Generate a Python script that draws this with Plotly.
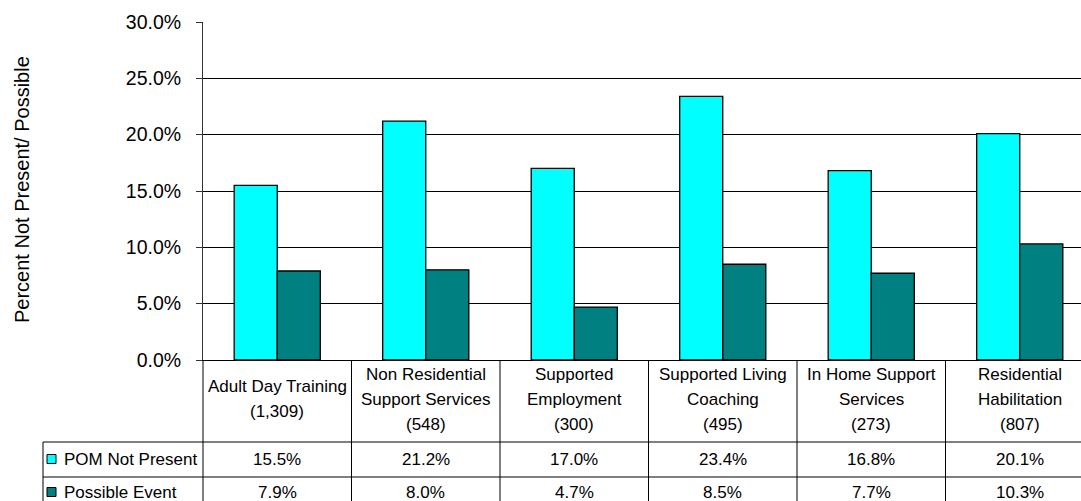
import plotly.graph_objects as go

# Service categories, sample sizes and the two measured rates (percent)
categories = [
    "Adult Day Training",
    "Non Residential\nSupport Services",
    "Supported\nEmployment",
    "Supported Living\nCoaching",
    "In Home Support\nServices",
    "Residential\nHabilitation",
]
counts = [1309, 548, 300, 495, 273, 807]
series_names = ["POM Not Present", "Possible Event"]
pom_not_present = [15.5, 21.2, 17.0, 23.4, 16.8, 20.1]
possible_event = [7.9, 8.0, 4.7, 8.5, 7.7, 10.3]
series_values = [pom_not_present, possible_event]
series_colors = ["#00FFFF", "#008080"]
y_ticks = [0, 5, 10, 15, 20, 25, 30]

W, H = 1081, 501
ML, MT, MB = 203, 22, 141
PW = W - ML
PH = H - MT - MB
CAT_PX = 148.5                      # width of one category column in pixels
FONT = "Liberation Sans, Arial, sans-serif"


def px_x(x):
    return (x - ML) / PW


def px_y(y):
    return 1 - (y - MT) / PH


x_idx = list(range(len(categories)))
fig = go.Figure()
for name, vals, col in zip(series_names, series_values, series_colors):
    fig.add_trace(go.Bar(
        x=x_idx, y=[v / 100 for v in vals], name=name,
        marker=dict(color=col, line=dict(color="#000000", width=1.3)),
        hoverinfo="y+name",
    ))

shapes = []
annotations = []
cw = CAT_PX / PW

# category header cells
for i, (cat, n) in enumerate(zip(categories, counts)):
    lines = cat.split("\n") + [f"({n:,})"]
    centre = 399
    step = 25
    y0 = centre - step * (len(lines) - 1) / 2
    for k, line in enumerate(lines):
        annotations.append(dict(
            x=(i + 0.5) * cw, y=px_y(y0 + k * step), xref="paper", yref="paper",
            text=line, showarrow=False, xanchor="center", yanchor="middle",
            font=dict(family=FONT, size=17, color="#000"),
        ))

# data table rows
row_y = [459, 492]
for r, (name, vals, col) in enumerate(zip(series_names, series_values, series_colors)):
    for i, v in enumerate(vals):
        annotations.append(dict(
            x=(i + 0.5) * cw, y=px_y(row_y[r]), xref="paper", yref="paper",
            text=f"{v:.1f}%", showarrow=False, xanchor="center", yanchor="middle",
            font=dict(family=FONT, size=17, color="#000"),
        ))
    annotations.append(dict(
        x=px_x(62), y=px_y(row_y[r]), xref="paper", yref="paper",
        text=name, showarrow=False, xanchor="left", yanchor="middle",
        font=dict(family=FONT, size=17, color="#000"),
    ))
    shapes.append(dict(
        type="rect", xref="paper", yref="paper",
        x0=px_x(47), x1=px_x(56), y0=px_y(row_y[r] - 4.5), y1=px_y(row_y[r] + 4.5),
        fillcolor=col, line=dict(color="#000", width=1),
    ))

# table grid lines
line_style = dict(color="#000000", width=1)
for i in range(len(categories) + 1):
    shapes.append(dict(type="line", xref="paper", yref="paper",
                       x0=i * cw, x1=i * cw, y0=px_y(360), y1=px_y(H + 20),
                       line=line_style))
for yy in (442, 477):
    shapes.append(dict(type="line", xref="paper", yref="paper",
                       x0=px_x(43), x1=1.02, y0=px_y(yy), y1=px_y(yy),
                       line=line_style))
shapes.append(dict(type="line", xref="paper", yref="paper",
                   x0=px_x(43), x1=px_x(43), y0=px_y(442), y1=px_y(H + 20),
                   line=line_style))

# vertical axis title
annotations.append(dict(
    x=px_x(22), y=px_y(190), xref="paper", yref="paper",
    text="Percent Not Present/ Possible", textangle=-90, showarrow=False,
    xanchor="center", yanchor="middle",
    font=dict(family=FONT, size=20, color="#000"),
))

fig.update_layout(
    width=W, height=H,
    margin=dict(l=ML, r=0, t=MT, b=MB, pad=0),
    paper_bgcolor="#FFFFFF", plot_bgcolor="#FFFFFF",
    barmode="group", bargap=0.42, bargroupgap=0,
    showlegend=False,
    shapes=shapes, annotations=annotations,
    font=dict(family=FONT, color="#000"),
)
fig.update_xaxes(
    range=[-0.5, -0.5 + PW / CAT_PX], showticklabels=False, ticks="",
    showgrid=False, zeroline=False, showline=True, linecolor="#000", linewidth=1,
    fixedrange=True,
)
fig.update_yaxes(
    range=[0, 0.30], tickvals=[t / 100 for t in y_ticks], tickformat=".1%",
    showgrid=True, gridcolor="#000000", gridwidth=1,
    zeroline=False, showline=True, linecolor="#333", linewidth=1,
    ticks="outside", ticklen=6, tickcolor="#333", ticklabelstandoff=11,
    tickfont=dict(family=FONT, size=19.5, color="#000"),
    fixedrange=True,
)

fig.write_html("out.html")
